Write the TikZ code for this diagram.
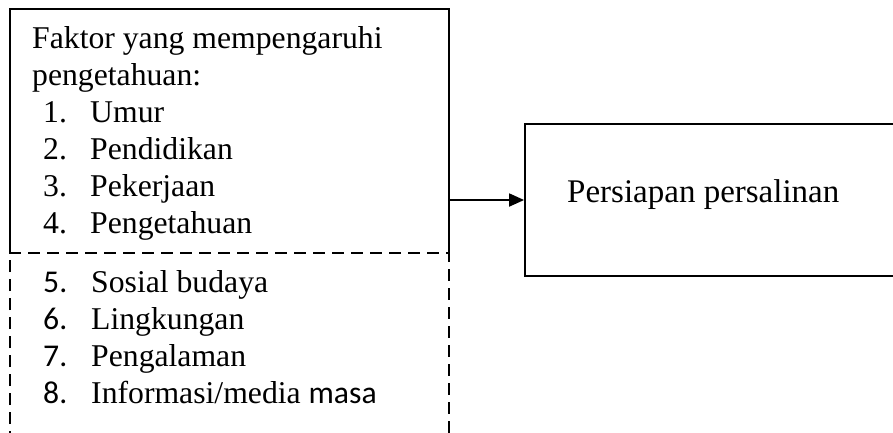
\documentclass[tikz,border=0pt]{standalone}
\usepackage{fontspec}
\setmainfont{Liberation Serif}
\newfontfamily\calibri{Carlito}
\usetikzlibrary{arrows.meta}
\begin{document}
\begin{tikzpicture}[x=1pt,y=-1pt,
  txt/.style={anchor=base west,inner sep=0pt,font=\fontsize{31.7}{37}\selectfont},
  bigtxt/.style={anchor=base west,inner sep=0pt,font=\fontsize{33}{40}\selectfont},
  solidbox/.style={line width=1.8pt},
  dashbox/.style={line width=1.8pt,dash pattern=on 12pt off 7pt},
  arr/.style={line width=1.8pt,-{Triangle[length=15pt,width=13pt]}}]
\useasboundingbox (0,0) rectangle (893,432);
\clip (0,0) rectangle (893,432);
% frames
\node[inner sep=0pt,minimum width=439pt,minimum height=244pt] (factors) at (229.5,131) {};
\node[inner sep=0pt,minimum width=439pt,minimum height=190pt] (other) at (229.5,348) {};
\node[draw,solidbox,inner sep=0pt,minimum width=380pt,minimum height=152pt] (persiapan) at (715,200) {};
\draw[solidbox] (factors.south west) -- (factors.north west) -- (factors.north east) -- (factors.south east);
\draw[dashbox] (other.south west) -- (other.north west) -- (other.north east) -- (other.south east);
\coordinate (out) at (factors.east |- persiapan.west);
\draw[arr] (out) -- (persiapan.west);
% texts
\node[txt] (t0) at (32,48) {Faktor yang mempengaruhi};
\node[txt] (t00) at (32,85) {pengetahuan:};
\node[txt] (n1) at (43,122) {1.};
\node[txt] (i1) at (90,122) {Umur};
\node[txt] (n2) at (43,159) {2.};
\node[txt] (i2) at (90,159) {Pendidikan};
\node[txt] (n3) at (43,196) {3.};
\node[txt] (i3) at (90,196) {Pekerjaan};
\node[txt] (n4) at (43,233) {4.};
\node[txt] (i4) at (90,233) {Pengetahuan};
\node[txt] (n5) at (43,292) {\calibri 5.};
\node[txt] (i5) at (91,292) {Sosial budaya};
\node[txt] (n6) at (43,329) {\calibri 6.};
\node[txt] (i6) at (91,329) {Lingkungan};
\node[txt] (n7) at (43,366) {\calibri 7.};
\node[txt] (i7) at (91,366) {Pengalaman};
\node[txt] (n8) at (43,403) {\calibri 8.};
\node[txt] (i8) at (91,403) {Informasi/media {\calibri masa}};
\node[bigtxt] (p) at (567,202) {Persiapan persalinan};
\end{tikzpicture}
\end{document}
